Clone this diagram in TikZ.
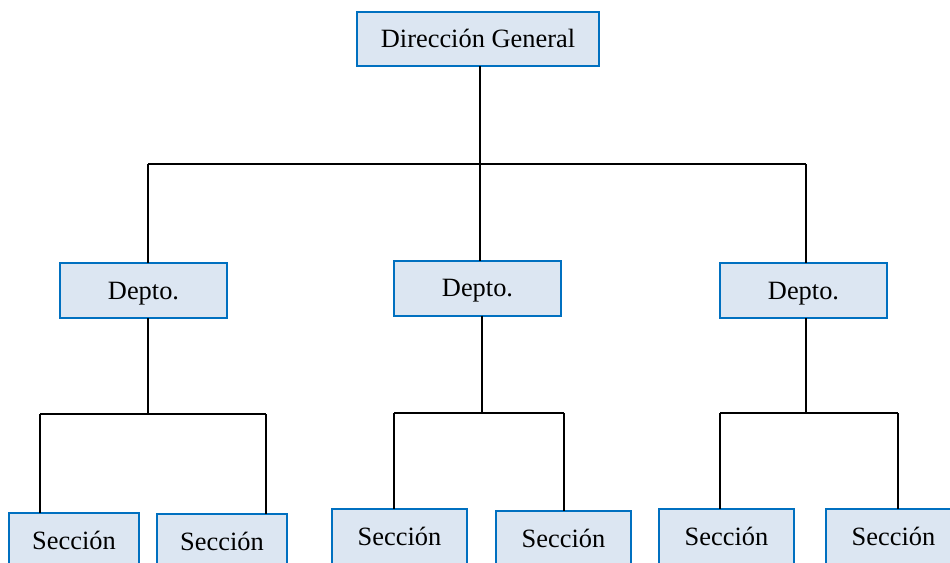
\documentclass[tikz,border=0pt]{standalone}
\usepackage{fontspec}
\setmainfont{Liberation Serif}
\definecolor{boxfill}{HTML}{DCE6F2}
\definecolor{boxline}{HTML}{0070C0}
\begin{document}
\begin{tikzpicture}[x=0.75pt,y=-0.75pt,
  orgbox/.style={draw=boxline, fill=boxfill, line width=1.5pt, rectangle,
    inner sep=0pt, outer sep=0pt, minimum height=41.25pt,
    text height=13.1pt, text depth=0pt,
    font=\fontsize{19.8}{24}\selectfont},
  topbox/.style={orgbox, minimum width=181.5pt, minimum height=40.5pt},
  deptbox/.style={orgbox, minimum width=125.25pt},
  secbox/.style={orgbox, minimum width=97.5pt},
  secboxw/.style={orgbox, minimum width=101.25pt},
  conn/.style={draw=black, line width=1.5pt}]
\useasboundingbox (0,0) rectangle (950,562);
\clip (0,0) rectangle (950,562);

% nodes
\node[topbox] (dg) at (478,39) {Dirección General};
\node[deptbox] (d1) at (143.5,290.5) {Depto.};
\node[deptbox] (d2) at (477.5,288) {Depto.};
\node[deptbox] (d3) at (803.5,290.5) {Depto.};
\node[secbox] (s1) at (74,540.5) {Sección};
\node[secbox] (s2) at (222,541.5) {Sección};
\node[secboxw] (s3) at (399.5,536.5) {Sección};
\node[secboxw] (s4) at (563.5,538.5) {Sección};
\node[secboxw] (s5) at (726.5,536.5) {Sección};
\node[secboxw] (s6) at (893.5,536.5) {Sección};

% junction coordinates
\coordinate (b0) at (480,164);
\coordinate (bl) at (148,164);
\coordinate (bm) at (482,164);
\coordinate (br) at (806,164);
\coordinate (j1) at (148,414);
\coordinate (j1l) at (40,414);
\coordinate (j1r) at (266,414);
\coordinate (j2) at (482,413);
\coordinate (j2l) at (394,413);
\coordinate (j2r) at (564,413);
\coordinate (j3) at (806,413);
\coordinate (j3l) at (720,413);
\coordinate (j3r) at (898,413);

% top level
\draw[conn] (b0 |- dg.south) -- (b0);
\draw[conn] (bl) -- (br);
\draw[conn] (bl) -- (bl |- d1.north);
\draw[conn] (b0) -- (b0 |- d2.north);
\draw[conn] (br) -- (br |- d3.north);

% department 1
\draw[conn] (j1 |- d1.south) -- (j1);
\draw[conn] (j1l) -- (j1r);
\draw[conn] (j1l) -- (j1l |- s1.north);
\draw[conn] (j1r) -- (j1r |- s2.north);

% department 2
\draw[conn] (j2 |- d2.south) -- (j2);
\draw[conn] (j2l) -- (j2r);
\draw[conn] (j2l) -- (j2l |- s3.north);
\draw[conn] (j2r) -- (j2r |- s4.north);

% department 3
\draw[conn] (j3 |- d3.south) -- (j3);
\draw[conn] (j3l) -- (j3r);
\draw[conn] (j3l) -- (j3l |- s5.north);
\draw[conn] (j3r) -- (j3r |- s6.north);
\end{tikzpicture}
\end{document}
